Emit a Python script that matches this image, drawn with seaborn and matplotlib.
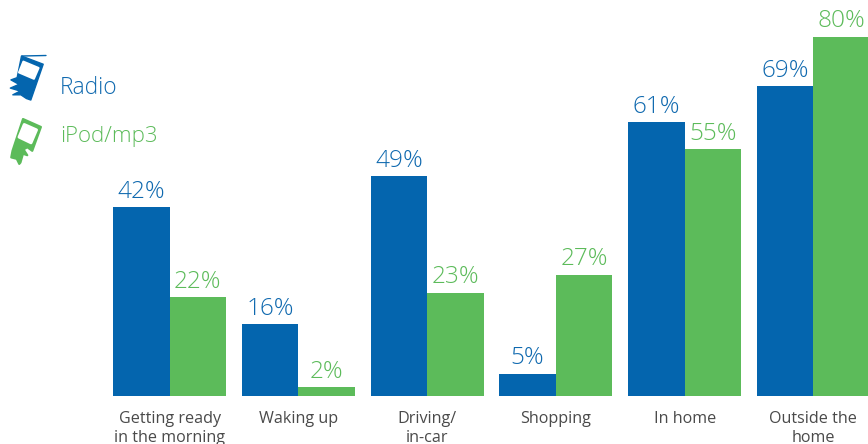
import matplotlib
matplotlib.use("Agg")
import matplotlib.pyplot as plt
from matplotlib.patches import Polygon
from matplotlib.transforms import Affine2D
from matplotlib.lines import Line2D
import pandas as pd
import seaborn as sns

categories = ["Getting ready\nin the morning", "Waking up", "Driving/\nin-car",
              "Shopping", "In home", "Outside the\nhome"]
radio = [42, 16, 49, 5, 61, 69]
ipod = [22, 2, 23, 27, 55, 80]
series_names = ["Radio", "iPod/mp3"]

BLUE = "#0465AE"
GREEN = "#5CBB5A"
BLUE_TEXT = "#0F69AF"
GREEN_TEXT = "#5CBB5A"

sns.set_theme(style="white")
plt.rcParams["font.family"] = ["Open Sans", "DejaVu Sans"]

df = pd.DataFrame({
    "category": categories * 2,
    "series": [series_names[0]] * 6 + [series_names[1]] * 6,
    "share": radio + ipod,
})

fig = plt.figure(figsize=(8.68, 4.44), dpi=100)
ax = fig.add_axes([0, 48 / 444, 1, 396 / 444])
sns.barplot(data=df, x="category", y="share", hue="series",
            palette=[BLUE, GREEN], width=0.878, gap=0, saturation=1,
            linewidth=0, legend=False, ax=ax)

ax.set_xlim(-1.317, 5.424)
ax.set_ylim(0, 88.2)
ax.set_xlabel("")
ax.set_ylabel("")
ax.set_yticks([])
ax.tick_params(axis="x", length=0, pad=11, labelsize=11.6, labelcolor="#4A4A4A")
for label in ax.get_xticklabels():
    label.set_linespacing(1.2)
sns.despine(ax=ax, left=True, bottom=True, top=True, right=True)

for container, colour in zip(ax.containers, [BLUE_TEXT, GREEN_TEXT]):
    ax.bar_label(container, fmt="%d%%", padding=2.5, fontsize=17.6, color=colour,
                 fontweight="light")

# Legend text and hand-held device icons, laid out in figure pixels
px = Affine2D().scale(1 / 868, -1 / 444).translate(0, 1) + fig.transFigure


def icon_shape(points, colour, origin, y_scale, round_px=0.0):
    scaled = [(origin[0] + x * 0.31, origin[1] + y * y_scale) for x, y in points]
    fig.add_artist(Polygon(scaled, closed=True, facecolor=colour,
                           edgecolor=colour if round_px else "none",
                           linewidth=round_px, joinstyle="round", transform=px))


fig.text(60, 88, series_names[0], transform=px, color=BLUE_TEXT, fontsize=16.4,
         va="center", ha="left", fontweight="light")
fig.text(60, 136, series_names[1], transform=px, color=GREEN_TEXT, fontsize=16,
         va="center", ha="left", fontweight="light")

# Radio icon
radio_origin = (6, 50.8)
icon_shape([(50, 14), (120, 36), (80, 132), (66, 128), (48, 118), (22, 118),
            (46, 108), (14, 100), (42, 90), (16, 78), (36, 72)],
           BLUE, radio_origin, 0.373, 1.0)
icon_shape([(56, 29), (105, 46), (90, 75), (42, 58)], "white", radio_origin, 0.373, 1.5)
fig.add_artist(Line2D([22, 46], [56, 55.5], color=BLUE, linewidth=1.0, transform=px))

# iPod icon
ipod_origin = (5, 114.6)
icon_shape([(58, 12), (116, 34), (88, 100), (72, 90), (60, 96), (72, 112),
            (58, 108), (50, 132), (46, 136), (38, 122), (20, 118), (24, 100)],
           GREEN, ipod_origin, 0.363, 1.5)
icon_shape([(62, 27), (102, 42), (84, 78), (45, 62)], "white", ipod_origin, 0.363, 2.0)

fig.savefig("out.png", dpi=100)
